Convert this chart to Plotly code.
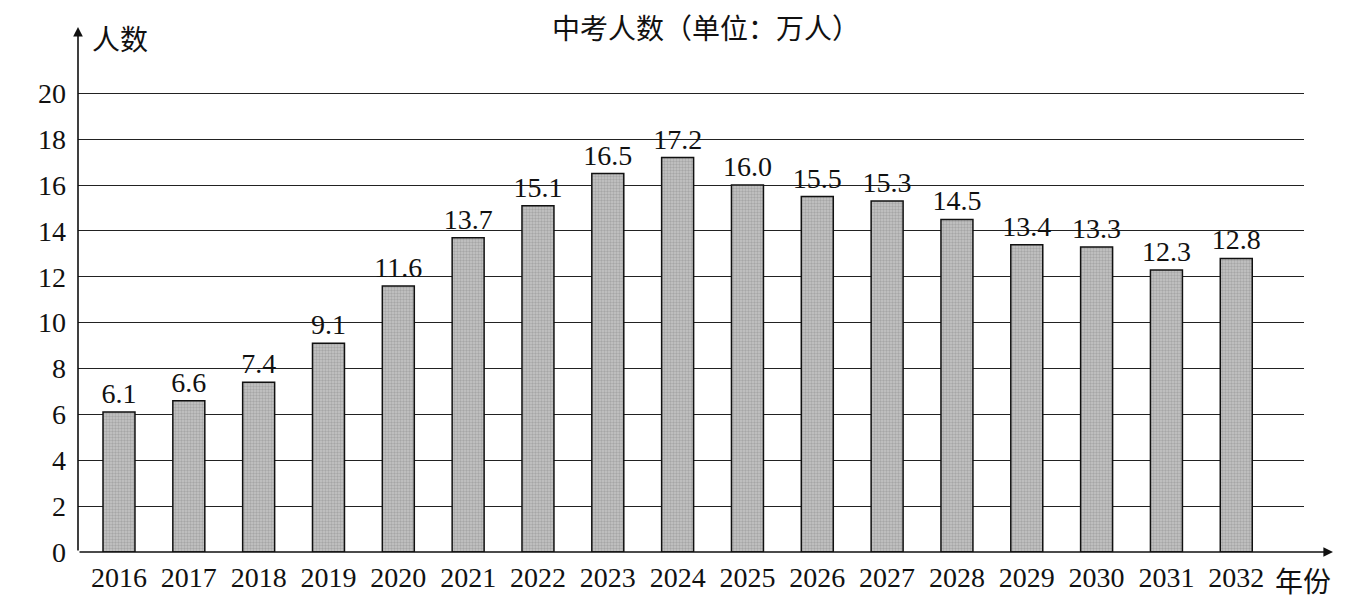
import plotly.graph_objects as go

years = ["2016", "2017", "2018", "2019", "2020", "2021", "2022", "2023", "2024",
         "2025", "2026", "2027", "2028", "2029", "2030", "2031", "2032"]
counts = [6.1, 6.6, 7.4, 9.1, 11.6, 13.7, 15.1, 16.5, 17.2,
          16.0, 15.5, 15.3, 14.5, 13.4, 13.3, 12.3, 12.8]
y_ticks = [0, 2, 4, 6, 8, 10, 12, 14, 16, 18, 20]

title_text = "中考人数（单位：万人）"
y_label = "人数"
x_label = "年份"

FONT = "Liberation Serif, Noto Sans CJK SC, serif"
CJK = "Noto Sans CJK SC, sans-serif"

# page body has an 8px margin; figure is sized so the plot lands at the right screen spot
W, H = 1356, 598
L, T, B = 70, 83, 54
PW = 1226
PH = H - T - B  # ~461 px for 20.1 units
R = W - L - PW

fig = go.Figure()
fig.add_trace(go.Bar(
    x=years, y=counts, width=0.458,
    marker=dict(color="#a9a9a9", line=dict(color="#111111", width=1.5),
                pattern=dict(shape=".", fgcolor="#858585", bgcolor="#c6c6c6", size=3, solidity=0.5)),
    text=[f"{v:.1f}" for v in counts], textposition="outside",
    textfont=dict(family=FONT, size=28, color="#111111"),
    constraintext="none",
    cliponaxis=False,
))

fig.update_layout(
    width=W, height=H,
    margin=dict(l=L, r=R, t=T, b=B, autoexpand=False),
    paper_bgcolor="white", plot_bgcolor="white",
    showlegend=False,
    font=dict(family=FONT, size=28, color="#111111"),
    xaxis=dict(type="category", range=[-0.587, 16.97], showgrid=False,
               showline=False, ticks="", ticklabelstandoff=6, automargin=False,
               tickfont=dict(family=FONT, size=28, color="#111111"),
               zeroline=False),
    yaxis=dict(range=[0, 20.1], tickvals=y_ticks, showgrid=True, gridcolor="#222222",
               gridwidth=1.3, showline=False, zeroline=False, ticks="",
               ticklabelstandoff=11, automargin=False,
               tickfont=dict(family=FONT, size=28, color="#111111")),
)

def px_to_paper_x(px):
    return (px - 8 - L) / PW

def px_to_paper_y(py):
    y0 = 8 + T + PH  # screen y of the plot bottom
    return (y0 - py) / PH

# axes with arrows
fig.add_annotation(xref="paper", yref="paper", x=px_to_paper_x(1333), y=0, ax=-(1333 - 78), ay=0,
                   text="", showarrow=True, arrowhead=2, arrowsize=1.2, arrowwidth=1.6,
                   arrowcolor="#111111", axref="pixel", ayref="pixel")
fig.add_annotation(xref="paper", yref="paper", x=0, y=px_to_paper_y(27), ax=0, ay=(8 + T + PH) - 27,
                   text="", showarrow=True, arrowhead=2, arrowsize=1.2, arrowwidth=1.6,
                   arrowcolor="#111111", axref="pixel", ayref="pixel")

# texts
fig.add_annotation(xref="paper", yref="paper", x=px_to_paper_x(706), y=px_to_paper_y(27),
                   text=title_text, showarrow=False, xanchor="center", yanchor="middle",
                   font=dict(family=CJK, size=28, color="#111111"))
fig.add_annotation(xref="paper", yref="paper", x=px_to_paper_x(90), y=px_to_paper_y(38),
                   text=y_label, showarrow=False, xanchor="left", yanchor="middle",
                   font=dict(family=CJK, size=28, color="#111111"))
fig.add_annotation(xref="paper", yref="paper", x=px_to_paper_x(1273), y=px_to_paper_y(580),
                   text=x_label, showarrow=False, xanchor="left", yanchor="middle",
                   font=dict(family=CJK, size=28, color="#111111"))

fig.write_html("out.html")
